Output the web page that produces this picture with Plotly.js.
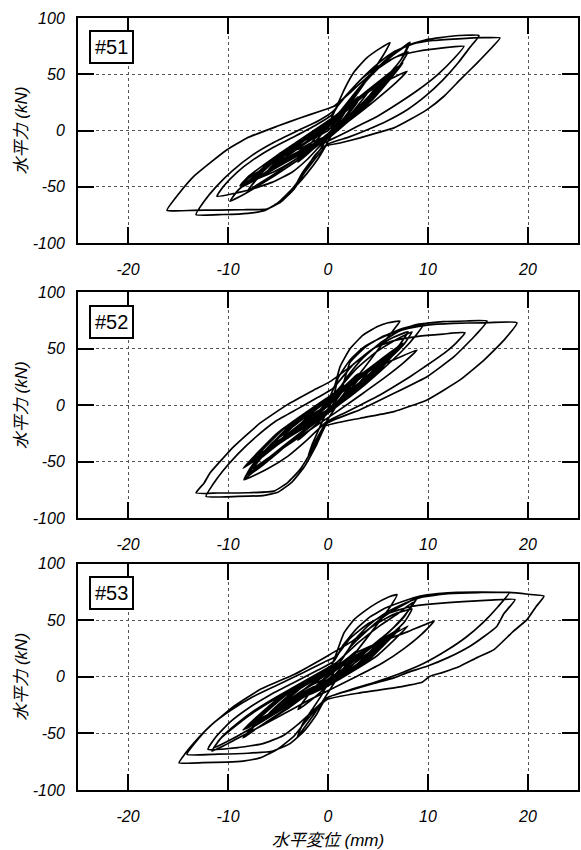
<!DOCTYPE html>
<html>
<head>
<meta charset="utf-8">
<script src="https://cdn.plot.ly/plotly-3.0.1.min.js"></script>
<style>html,body{margin:0;padding:0;background:#fff;}#chart{width:581px;height:850px;}</style>
</head>
<body>
<div id="chart"></div>
<script>
// Specimen labels
const specimens = ["#51", "#52", "#53"];
// Axis ticks
const xTickVals = [-20, -10, 0, 10, 20];
const yTickVals = [-100, -50, 0, 50, 100];
const xTitle = "水平変位 (mm)";
const yTitle = "水平力 (kN)";

// #51 horizontal displacement (mm) / horizontal force (kN): large cycles
const x51 = [0,0.8,1.5,1.1,0.4,-0.5,-1.5,-1.1,-0.3,0.6,
 1.8,3,2.4,1.4,0.2,-1.2,-2.2,-3,-2.4,-1.3,0,
 0.9,1.6,2.6,3.8,5.2,6.2,5.6,4.8,3.8,2.7,1.6,0.6,-0.2,-1.0,-2.1,-3.3,-2.6,-1.7,-0.8,0,0.9,
 2,3.5,5,6.5,7.5,8.2,7.6,6.6,5.2,3.6,2,0.5,-1.5,-3.5,-5.5,-7.4,-8.8,-8,-6.5,-4.6,-2.6,-0.6,1,
 3,5,6.8,8,7.3,5.8,4,2,0,-2.2,-4.3,-6.4,-8.3,-9.8,-9.1,-7.7,-5.8,-3.8,-1.7,0.4,
 2.8,5.4,7.9,6.6,4.6,2.6,0.2,-2.4,-5,-7,-8.6,-7.6,-5.2,-2.7,-0.2,1.4,
 2.5,3.8,5.2,6.5,8,10,12.5,15.1,14.2,13,11.5,9.8,8,6,4,2,0,-1.2,-2.4,-3.6,-5,-6.3,-8,-10.5,-13.2,-12.4,-11.2,-9.6,-7.6,-5.3,-3,-0.9,0.5,
 2,3.5,5,7,9,11.5,13.6,12.6,11,9,7,5,3,1,-0.6,-2,-3.6,-5.6,-8,-11.1,-10.4,-9.1,-7.5,-5.5,-3.3,-1.2,0.4,
 1.2,2.5,3.8,5.2,6.6,8.5,10.5,13,15.5,17.2,16.2,14.9,13.2,11.6,9.9,8.2,6.6,4.9,3.2,1.2,-0.4,-1.4,-2.4,-3.4,-4.8,-6.1,-8.5,-11,-13.5,-16.1,-15,-13.4,-11.8,-10.1,-8.1,-5.1,-2.8,-0.8,0.6,
 2.5,4.5,6.5,8,7.2,5.6,3.8,1.8,-0.2,-2.4,-4.6,-6.5,-8,-7.2,-5.5,-3.5,-1.5,0];
const y51 = [0,8,15,9,1,-7,-14,-8,0,8,
 19,30,21,9,-3,-14,-22,-28,-19,-7,5,
 22,36,52,64,73,78,68,57,44,30,15,0,-13,-25,-38,-50,-38,-27,-17,-5,10,
 24,41,55,67,74,78.4,67,55,41,26,12,-1,-15,-27,-37,-44,-49,-41,-31,-19,-7,5,15,
 37,56,69,76,63,47,29,11,-6,-21,-34,-46,-56,-62.8,-54,-43,-30,-17,-4,9,
 27,42,52.7,41,26,12,-4,-19,-32,-42,-48,-40,-27,-13,2,14,
 30,45,58,68,76,81,84,84.4,74,60,45,31,19,9,1,-6,-12,-24,-38,-52,-64,-71,-73.5,-74.5,-74.6,-63,-50,-36,-22,-10,0,9,17,
 33,47,57,66,70.5,73.5,74.9,64,50,36,24,13,4,-5,-12,-25,-37,-46,-53,-58.3,-49,-37,-26,-15,-5,5,14,
 25,38,50,61,70,77,80,81.5,82.5,82.3,72,60,45,30.5,18.6,9.8,2.4,-2,-6.5,-11,-14,-23,-37.6,-52,-64,-69.6,-70.3,-70.6,-70.8,-70.8,-57,-40.5,-28.7,-17,-6.5,3.8,11.2,17.2,21.6,
 36,52,64,70,58,42,26,10,-4,-20,-34,-45,-53,-44,-32,-19,-7,0];
// #51 small repeated cycles (dense central band)
const xb51 = [0,1.5,3,1.8,0,-1.5,-3,-1.8,0,
 2,4,2.4,0,-2.2,-4.5,-2.7,0,
 2.5,5,3,0,-2.7,-5.5,-3.3,0,
 2.7,5.5,3.3,0,-3,-6,-3.6,0,
 3,6,3.6,0,-3.5,-7,-4.2,0,
 3.2,6.5,3.9,0,-3.7,-7.5,-4.5,0,
 3.5,7,4.2,0,-4,-8,-4.8,0,
 3.7,7.5,4.5,0,-4.2,-8.5,-5.1,0,
 3.6,7.2,4.3,0,-3.9,-7.8,-4.7,0,
 3.4,6.8,4.1,0,-4.1,-8.2,-4.9,0];
const yb51 = [3,15,26,12,-4,-10,-17,-7,4,
 19,34,16,-5,-15,-26,-11,5,
 23,41,19,-5,-18,-32,-14,5,
 26,46,22,-6,-20,-35,-15,6,
 28,49,23,-6,-23,-41,-18,6,
 30,53,25,-7,-25,-44,-19,7,
 32,57,27,-7,-27,-47,-21,7,
 34,60,28,-7,-28,-50,-22,7,
 33,58,27,-6,-25,-45,-20,6,
 31,56,26,-7,-27,-48,-21,6];

// #52
const x52 = [0,0.8,1.5,1.1,0.4,-0.5,-1.5,-1.1,-0.3,0.6,
 1.8,3,2.4,1.4,0.2,-1.2,-2.2,-3,-2.4,-1.3,0,
 0.7,1.2,2.2,3.5,4.9,6,7.2,6.5,5.5,4.3,3,1.8,0.6,-0.4,-1.2,-2,-1.6,-1,-0.3,0.5,
 2,3.5,5.2,7,8.5,9.6,8.8,7.4,5.6,3.8,1.8,-0.2,-2.2,-4.2,-6.2,-7.6,-8.4,-7.8,-6.6,-4.8,-2.8,-0.8,0.8,
 2.8,4.8,6.8,8.4,7.6,6,4.2,2.2,0.2,-2,-4,-6,-8.1,-7.4,-5.8,-3.8,-1.8,0.2,1.6,
 4,6.5,8.9,7.6,5.6,3.4,1,-1.5,-4,-6,-7.5,-6.6,-4.6,-2.4,-0.2,1.2,
 2.2,3.8,5.5,7.5,9.5,11.5,13.8,15.9,14.6,12.6,9.9,6.6,3.2,-0.1,-1.2,-2.4,-3.6,-5,-6.5,-9,-12.2,-11.5,-10.5,-9,-7.2,-5.2,-3,-1,0.5,
 2.5,4.5,6.5,9,11.5,13.7,12.8,11.6,10,8.2,6.5,4.9,3.2,1.6,-0.2,-2,-4,-6,-8.4,-7.6,-6.4,-4.8,-2.8,-0.8,0.6,
 1,2.2,3.5,4.9,6.5,8,9.9,12.5,15.5,18.9,17.6,15.6,13.2,9.9,6.6,3.2,-0.4,-1.4,-2.8,-4.1,-5.4,-8,-11,-13.2,-12.4,-11.8,-9.4,-6.8,-4.1,-1.4,0.2,
 2.5,4.5,6.5,8,7.2,5.4,3.4,1.4,-0.6,-2.8,-5,-6.8,-8,-7.2,-5.4,-3.4,-1.4,0];
const y52 = [0,7,13,8,0,-8,-15,-9,-1,7,
 18,28,20,8,-5,-17,-25,-31,-22,-9,4,
 18,34,50,62,69.5,73,74.5,66,55,41,26,11,-4,-18,-31,-46,-35,-23,-9,6,
 26,42,55,65,70.5,72.4,62,48,33,19,5,-8,-22,-36,-50,-60,-66,-56,-43,-28,-14,0,12,
 32,47,58,65,54,40,26,12,-3,-19,-33,-47,-61.5,-52,-39,-25,-11,3,13,
 30,40,48.9,38,24,10,-5,-20,-35,-47,-56,-46,-32,-17,-2,10,
 38,52,61,68,72,74,74.6,74.5,60.6,43,25.3,10.6,-4,-16,-36,-55,-68,-77,-80,-80.7,-80.7,-70,-58,-43,-28,-14,-3,7,15,
 36,50,57,61,63,64.2,55,45.9,36,25.3,16,7.7,0,-7,-15,-30,-45,-56,-66,-54,-41,-27,-13,0,10,
 24,40,51,58,64,68,71,72.5,73,73,57.7,40,22.4,4.7,-5.6,-11.5,-18.8,-36.5,-57,-69,-76,-77.5,-77.7,-77.7,-69,-60,-36.5,-15.9,0.3,13.5,20.9,
 36,50,60,65,54,38,22,7,-8,-25,-42,-55,-62,-51,-36,-21,-7,0];
const xb52 = [0,1.5,3,1.8,0,-1.5,-3,-1.8,0,
 2,4,2.4,0,-2.2,-4.5,-2.7,0,
 2.5,5,3,0,-2.7,-5.5,-3.3,0,
 2.7,5.5,3.3,0,-3,-6,-3.6,0,
 3,6,3.6,0,-3.5,-7,-4.2,0,
 3.2,6.5,3.9,0,-3.7,-7.5,-4.5,0,
 3.5,7,4.2,0,-4,-8,-4.8,0,
 3.7,7.5,4.5,0,-4.2,-8.5,-5.1,0,
 3.6,7.2,4.3,0,-3.9,-7.8,-4.7,0,
 3.4,6.8,4.1,0,-4.1,-8.2,-4.9,0];
const yb52 = [3,12,22,10,-4,-11,-19,-8,4,
 16,29,13,-5,-16,-28,-12,5,
 19,36,16,-5,-19,-34,-15,5,
 22,40,18,-6,-21,-38,-16,6,
 24,44,20,-6,-24,-44,-19,6,
 26,48,22,-7,-26,-48,-21,7,
 28,51,23,-7,-28,-52,-23,7,
 30,55,25,-7,-30,-56,-25,7,
 29,52,24,-6,-27,-50,-22,6,
 27,50,23,-7,-29,-54,-24,6];

// #53
const x53 = [0,0.8,1.5,1.1,0.4,-0.5,-1.5,-1.1,-0.3,0.6,
 1.8,3,2.4,1.4,0.2,-1.2,-2.2,-3,-2.4,-1.3,0,
 0.8,1.6,2.6,3.8,4.9,5.9,6.9,6.3,5.4,4.2,2.9,1.6,0.5,-0.5,-1.4,-2.3,-3.1,-2.5,-1.6,-0.7,0.1,0.9,
 2.2,3.8,5.4,7,8.9,8,6.6,5,3.2,1.2,-1,-3.2,-5.4,-7.6,-9.6,-11.4,-10.6,-9.2,-7.4,-5.2,-3,-0.8,0.9,
 3,5,7,8.5,7.6,6,4.2,2.2,0.2,-2,-4,-6,-7.9,-7.1,-5.6,-3.7,-1.7,0.3,
 2.5,5,8,10.6,9.4,7.6,5.4,3,0.5,-2,-4.5,-7,-9.4,-11.6,-10.8,-9.2,-7.2,-5,-2.6,-0.4,1.2,
 2.6,4,5.5,7.2,9.2,12,15,18.1,17,15.5,13.8,11.8,9.6,7.2,4.6,2,-0.2,-1.2,-2.4,-3.8,-5.5,-8,-11,-14.1,-13,-11.6,-9.8,-7.6,-5,-2.4,-0.4,0.8,
 2.2,4,6,8.2,10.5,13.5,16.2,18.7,17.6,16.9,15.5,14.2,12,9.9,8,6.6,4.5,2.2,0,-1.5,-3,-4.5,-6.5,-9,-12,-11.2,-9.8,-8,-5.8,-3.4,-1,0.6,
 1.5,2.8,4.2,5.8,7.6,9.2,11,12.9,15.5,18.1,20,21.6,20.8,19.9,18.5,16.6,14.9,13.2,11.5,10.2,9.4,8,6.6,3.2,-0.1,-1.8,-3.4,-5.1,-6.8,-8.5,-10.1,-12.5,-14.9,-14.3,-13.4,-11.8,-9.4,-6.8,-3.4,-0.1,
 2.5,4.5,6.5,8.4,7.6,6,4,2,-0.2,-2.6,-5,-7.2,-8.5,-7.6,-5.8,-3.8,-1.8,0];
const y53 = [0,6,11,6,-1,-8,-14,-9,-2,5,
 15,24,17,6,-6,-17,-24,-29,-21,-9,2,
 20,38.9,50.6,59,65.4,70,72.7,63,52,38,23,8,-7,-21,-33,-44,-53.9,-41,-29,-17,-4,9,
 26,40,52,61,69.8,58,44,31,18,5,-8,-21,-33,-45,-55,-62.7,-53,-42,-30,-18,-7,4,13,
 30,44,56,66,53,39,26,12,-2,-15,-28,-39,-49.5,-41,-31,-19,-7,5,
 20,30,40,49.2,38,25,12,1,-10,-21,-33,-45,-56,-65.7,-55,-43,-30,-18,-6,5,13,
 32,45,55,63,70,73.5,74.5,74.2,62,48,35,23,12,3,-5,-12,-19,-34,-48,-59,-65.5,-67.5,-68.3,-68.6,-55,-42,-30,-18,-7,4,13,18,
 34,47,56,62,64.5,66.5,67.8,68.3,56,44.8,35,27.1,17,9.4,4,-0.9,-6,-12,-18,-30,-42,-52,-59,-62.5,-64,-53,-40,-28,-16,-5,6,14,
 28,42,53,61,67,71.3,73.5,74.8,75,74.6,73,71.3,62,50.6,40,24.1,17,9.4,4,0.6,-4.7,-7.5,-9.7,-14.1,-20,-34.7,-52.4,-64.2,-71.6,-74.5,-75.4,-75.8,-76,-68,-58.3,-43.6,-25.9,-11.2,2.1,18.3,
 32,45,55,60,48,35,21,8,-5,-19,-33,-46,-54,-45,-33,-20,-8,0];
const xb53 = [0,1.5,3,1.8,0,-1.5,-3,-1.8,0,
 2,4,2.4,0,-2.2,-4.5,-2.7,0,
 2.5,5,3,0,-2.7,-5.5,-3.3,0,
 2.7,5.5,3.3,0,-3,-6,-3.6,0,
 3,6,3.6,0,-3.5,-7,-4.2,0,
 3.2,6.5,3.9,0,-3.7,-7.5,-4.5,0,
 3.5,7,4.2,0,-4,-8,-4.8,0,
 3.9,8,4.8,0,-4.2,-8.5,-5.1,0,
 3.6,7.2,4.3,0,-3.9,-7.8,-4.7,0,
 3.4,6.8,4.1,0,-4.1,-8.2,-4.9,0];
const yb53 = [2,10,18,8,-4,-9,-16,-7,3,
 13,24,10,-5,-13,-24,-10,4,
 16,30,12,-6,-16,-30,-13,5,
 18,33,13,-6,-18,-33,-14,5,
 19,36,14,-7,-21,-38,-16,5,
 21,39,15,-7,-22,-41,-17,6,
 22,42,16,-7,-24,-44,-19,6,
 24,45,18,-8,-25,-47,-20,6,
 23,43,17,-7,-23,-43,-18,5,
 22,41,16,-7,-25,-46,-20,5];

const FONT = "Liberation Sans, Arial, Noto Sans CJK JP, sans-serif";
const xs = [x51.concat(xb51), x52.concat(xb52), x53.concat(xb53)];
const ys = [y51.concat(yb51), y52.concat(yb52), y53.concat(yb53)];
const domains = [[0.7083, 1], [0.3521, 0.6447], [0, 0.2931]];

const data = xs.map((xv, i) => ({
  type: "scatter", mode: "lines",
  x: xv, y: ys[i],
  xaxis: i === 0 ? "x" : "x" + (i + 1),
  yaxis: i === 0 ? "y" : "y" + (i + 1),
  line: {color: "#000", width: 1.7, shape: "spline", smoothing: 0.4},
  hoverinfo: "skip"
}));

const italic = v => "<i>" + v + "</i>";
const tickFont = {family: FONT, size: 16, style: "italic", color: "#000"};
const titleFont = {family: FONT, size: 17, style: "italic", color: "#000"};

function xAxis(i) {
  const ax = {
    domain: [0, 1], anchor: i === 0 ? "y" : "y" + (i + 1),
    range: [-25, 25], tickvals: xTickVals, ticktext: xTickVals.map(italic),
    ticks: "inside", ticklen: 16, tickwidth: 2, tickcolor: "#000",
    showline: true, linewidth: 2, linecolor: "#000", mirror: "allticks",
    showgrid: true, gridcolor: "#555", gridwidth: 1, griddash: "3px,3px",
    zeroline: false, ticklabelstandoff: 11,
    tickfont: tickFont
  };
  if (i === 2) {
    ax.title = {text: italic(xTitle), standoff: 10, font: titleFont};
  }
  return ax;
}
function yAxis(i) {
  return {
    domain: domains[i], anchor: i === 0 ? "x" : "x" + (i + 1),
    range: [-100, 100], tickvals: yTickVals, ticktext: yTickVals.map(italic),
    ticks: "inside", ticklen: 16, tickwidth: 2, tickcolor: "#000",
    showline: true, linewidth: 2, linecolor: "#000", mirror: "allticks",
    showgrid: true, gridcolor: "#555", gridwidth: 1, griddash: "3px,3px",
    zeroline: false, ticklabelstandoff: 8,
    tickfont: tickFont,
    title: {text: italic(yTitle), standoff: 1, font: titleFont}
  };
}

const layout = {
  width: 581, height: 850,
  margin: {l: 78, r: 3, t: 18, b: 60},
  paper_bgcolor: "#fff", plot_bgcolor: "#fff",
  showlegend: false,
  font: {family: FONT, size: 16, color: "#000"},
  annotations: specimens.map((s, i) => ({
    text: s, showarrow: false,
    xref: i === 0 ? "x" : "x" + (i + 1), yref: i === 0 ? "y" : "y" + (i + 1),
    x: -21.7, y: 74, xanchor: "center", yanchor: "middle",
    font: {family: FONT, size: 20, color: "#000"},
    bgcolor: "#fff", bordercolor: "#000", borderwidth: 2, borderpad: 4
  }))
};
[0, 1, 2].forEach(i => {
  layout[i === 0 ? "xaxis" : "xaxis" + (i + 1)] = xAxis(i);
  layout[i === 0 ? "yaxis" : "yaxis" + (i + 1)] = yAxis(i);
});

Plotly.newPlot("chart", data, layout, {displayModeBar: false, staticPlot: true});
</script>
</body>
</html>
